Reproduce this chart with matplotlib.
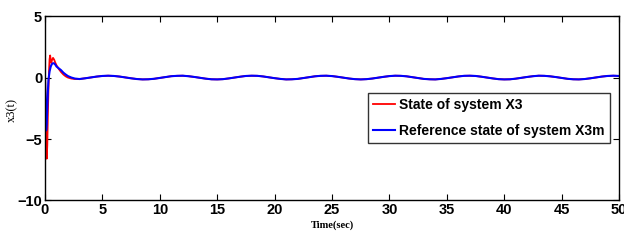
import matplotlib
matplotlib.use('Agg')
import matplotlib.pyplot as plt

# transient part
t_red = [0.0, 0.05, 0.1, 0.15, 0.2, 0.25, 0.3, 0.35, 0.4, 0.45, 0.5, 0.55, 0.6,
         0.7, 0.8, 0.9, 1.0, 1.2, 1.4, 1.6, 1.8, 2.0, 2.3, 2.6]
x3_red = [0.3, -2.0, -5.0, -6.6, -5.5, -3.0, -1.0, 0.5, 1.5, 1.8, 1.4, 1.2, 1.4,
          1.6, 1.45, 1.2, 1.0, 0.7, 0.45, 0.25, 0.1, 0.0, -0.08, -0.12]
t_blue = [0.0, 0.05, 0.1, 0.15, 0.2, 0.25, 0.3, 0.4, 0.5, 0.6, 0.7, 0.8, 0.9,
          1.0, 1.2, 1.4, 1.6, 1.8, 2.0, 2.3, 2.6]
x3_blue = [0.0, -2.0, -4.3, -3.8, -2.5, -1.2, -0.2, 0.5, 0.9, 1.1, 1.17, 1.15, 1.05,
           0.9, 0.75, 0.6, 0.4, 0.25, 0.12, 0.0, -0.08]

# steady part, both curves on top of each other
t_ss = [3.0, 3.5, 4.0, 4.5, 5.0, 5.5, 6.0, 6.5, 7.0, 7.5, 8.0, 8.5, 9.0, 9.5,
        10.0, 10.5, 11.0, 11.5, 12.0, 12.5, 13.0, 13.5, 14.0, 14.5, 15.0, 15.5,
        16.0, 16.5, 17.0, 17.5, 18.0, 18.5, 19.0, 19.5, 20.0, 20.5, 21.0, 21.5,
        22.0, 22.5, 23.0, 23.5, 24.0, 24.5, 25.0, 25.5, 26.0, 26.5, 27.0, 27.5,
        28.0, 28.5, 29.0, 29.5, 30.0, 30.5, 31.0, 31.5, 32.0, 32.5, 33.0, 33.5,
        34.0, 34.5, 35.0, 35.5, 36.0, 36.5, 37.0, 37.5, 38.0, 38.5, 39.0, 39.5,
        40.0, 40.5, 41.0, 41.5, 42.0, 42.5, 43.0, 43.5, 44.0, 44.5, 45.0, 45.5,
        46.0, 46.5, 47.0, 47.5, 48.0, 48.5, 49.0, 49.5, 50.0]
x3_ss = [-0.12, -0.06, 0.01, 0.08, 0.13, 0.15, 0.13, 0.08, 0.01, -0.06, -0.12, -0.15,
         -0.14, -0.10, -0.03, 0.04, 0.11, 0.14, 0.15, 0.11, 0.05, -0.02, -0.09, -0.14,
         -0.15, -0.13, -0.07, 0.00, 0.07, 0.13, 0.15, 0.14, 0.09, 0.02, -0.05, -0.11,
         -0.15, -0.14, -0.11, -0.04, 0.03, 0.10, 0.14, 0.15, 0.12, 0.06, -0.01, -0.08,
         -0.13, -0.15, -0.13, -0.08, -0.01, 0.06, 0.12, 0.15, 0.14, 0.10, 0.03, -0.04,
         -0.11, -0.14, -0.15, -0.11, -0.05, 0.02, 0.09, 0.14, 0.15, 0.13, 0.07, 0.00,
         -0.07, -0.13, -0.15, -0.14, -0.09, -0.02, 0.05, 0.11, 0.15, 0.14, 0.10, 0.04,
         -0.03, -0.10, -0.14, -0.15, -0.12, -0.06, 0.01, 0.08, 0.13, 0.15, 0.13]

xticks = [0, 5, 10, 15, 20, 25, 30, 35, 40, 45, 50]
yticks = [-10, -5, 0, 5]

fig = plt.figure(figsize=(6.24, 2.42), dpi=100)
ax = fig.add_axes([0.0721, 0.1715, 0.92, 0.762])

ax.plot(t_red + t_ss, x3_red + x3_ss, color='red', lw=1.3, label='State of system X3')
ax.plot(t_blue + t_ss, x3_blue + x3_ss, color='blue', lw=1.5,
        label='Reference state of system X3m')

ax.set_xlim(0, 50)
ax.set_ylim(-10, 5)
ax.set_xticks(xticks)
ax.set_yticks(yticks)
ax.tick_params(direction='in', top=True, right=True, length=4, width=0.8, pad=2)
for lbl in ax.get_xticklabels() + ax.get_yticklabels():
    lbl.set_family('Liberation Sans')
    lbl.set_fontweight('bold')
    lbl.set_fontsize(10.5)
for sp in ax.spines.values():
    sp.set_linewidth(1.0)

ax.set_xlabel('Time(sec)', family='Liberation Serif', fontweight='bold', fontsize=7.5, labelpad=2)
ax.set_ylabel('x3(t)', family='Liberation Serif', fontsize=9)
ax.yaxis.set_label_coords(-0.047, 0.49)

leg = ax.legend(loc='upper left', bbox_to_anchor=(0.563, 0.583), fancybox=False,
                prop={'family': 'Liberation Sans', 'weight': 'bold', 'size': 10},
                handlelength=1.6, handletextpad=0.3, borderpad=0.35, labelspacing=0.85,
                borderaxespad=0)
leg.get_frame().set_edgecolor('black')
leg.get_frame().set_linewidth(1.0)

fig.savefig('out.png', dpi=100)
